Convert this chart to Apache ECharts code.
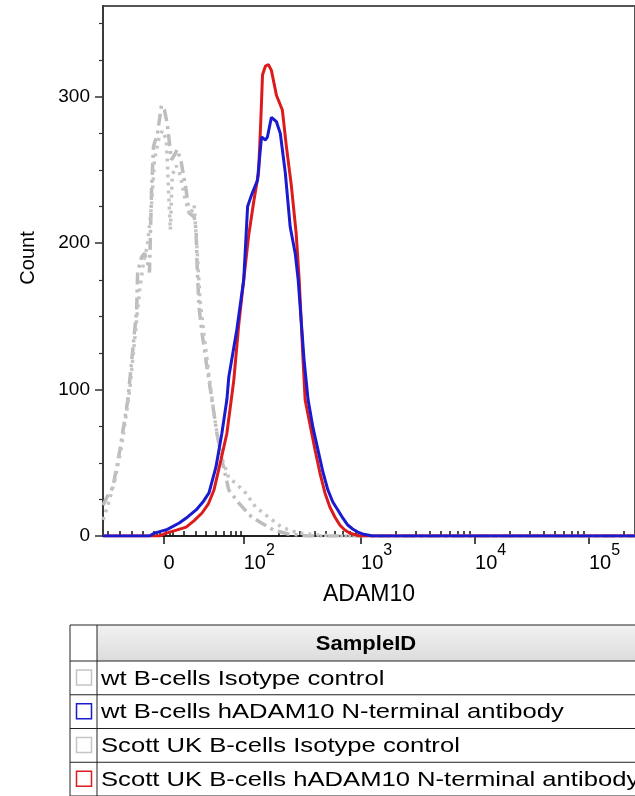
<!DOCTYPE html>
<html><head><meta charset="utf-8">
<script src="https://cdn.jsdelivr.net/npm/echarts@6/dist/echarts.min.js"></script>
<style>html,body{margin:0;padding:0;background:#fff}#c{width:635px;height:796px}</style>
</head><body><div id="c"></div>
<script>
// ---- data (x in display units of the biexponential ADAM10 axis, y = Count) ----
const legendNames = [
  'wt B-cells Isotype control',
  'wt B-cells hADAM10 N-terminal antibody',
  'Scott UK B-cells Isotype control',
  'Scott UK B-cells hADAM10 N-terminal antibody'
];
const xTickVals = [1.265, 1.97, 3, 4, 5];
const xTickLabels = ['0', '10^2', '10^3', '10^4', '10^5'];
const xMinorTicks = [0.778, 0.883, 0.987, 1.083, 1.178, 1.204, 1.230, 1.290, 1.317, 1.343,
  1.448, 1.552, 1.640, 1.727, 1.796, 1.857, 1.900, 1.943,
  2.280, 2.461, 2.590, 2.690, 2.771, 2.840, 2.900, 2.953,
  3.301, 3.477, 3.602, 3.699, 3.778, 3.845, 3.903, 3.954,
  4.301, 4.477, 4.602, 4.699, 4.778, 4.845, 4.903, 4.954, 5.301];
const yTickVals = [0, 100, 200, 300];
const yMinorTicks = [25, 50, 75, 125, 150, 175, 225, 250, 275, 325, 350];

const wtIsoX = [0.735, 0.770, 0.822, 0.883, 0.953, 0.996, 1.030, 1.039, 1.074, 1.100, 1.126, 1.143, 1.161, 1.178, 1.213, 1.248, 1.274, 1.300, 1.335, 1.361, 1.387, 1.422, 1.465, 1.491, 1.535, 1.552, 1.561, 1.578, 1.604, 1.648, 1.691, 1.735, 1.778, 1.839, 1.926, 2.039, 2.126, 2.230, 2.361, 2.535, 5.404];
const wtIsoY = [21, 26.6, 33.5, 58.7, 93, 127, 154, 180, 190.6, 193, 187, 180, 236, 266, 275, 294, 291, 281, 257, 260, 264, 255, 236, 220.6, 218, 209, 184, 156, 138.7, 115, 93, 70, 52, 31.4, 22.5, 13, 8.9, 4.1, 1.4, 0, 0];

const wtAbX = [0.735, 1.143, 1.187, 1.300, 1.404, 1.478, 1.552, 1.610, 1.665, 1.726, 1.778, 1.822, 1.839, 1.909, 1.970, 2.004, 2.039, 2.091, 2.126, 2.161, 2.178, 2.213, 2.257, 2.291, 2.335, 2.378, 2.422, 2.448, 2.474, 2.500, 2.535, 2.578, 2.622, 2.665, 2.709, 2.752, 2.796, 2.839, 2.883, 2.926, 2.970, 3.013, 3.057, 3.100, 5.404];
const wtAbY = [0, 0, 2, 4.5, 8.9, 13, 17.8, 23, 29.4, 47, 70, 93, 108.6, 140.7, 175, 225, 233, 243, 272.5, 270.5, 272.5, 286, 283, 275, 248, 211, 193, 175, 147.5, 120, 93, 74, 58.7, 43.7, 31.4, 23.2, 17.8, 12.3, 7.5, 4.8, 2.7, 1.4, 0.7, 0, 0];

const scottIsoX = [0.735, 0.778, 0.839, 0.900, 0.970, 1.022, 1.057, 1.091, 1.126, 1.161, 1.187, 1.222, 1.257, 1.291, 1.326, 1.343, 1.378, 1.413, 1.457, 1.500, 1.535, 1.561, 1.587, 1.622, 1.665, 1.717, 1.770, 1.839, 1.900, 1.987, 2.074, 2.187, 2.300, 2.448, 2.622, 2.796, 5.404];
const scottIsoY = [11, 21, 38, 62, 100, 141, 168, 187, 199, 226, 257, 270.5, 277, 270.5, 209, 246.6, 253, 246.6, 229.5, 219, 226, 195, 161, 137, 110, 79, 55, 39.6, 36, 29.4, 19.8, 13, 6.1, 2, 0.7, 0, 0];

const scottAbX = [0.735, 1.230, 1.291, 1.380, 1.465, 1.535, 1.604, 1.660, 1.709, 1.770, 1.822, 1.883, 1.926, 1.970, 2.013, 2.057, 2.100, 2.120, 2.135, 2.161, 2.187, 2.213, 2.257, 2.309, 2.343, 2.387, 2.430, 2.457, 2.474, 2.491, 2.509, 2.552, 2.596, 2.639, 2.683, 2.726, 2.770, 2.813, 2.857, 2.900, 2.943, 2.987, 5.404];
const scottAbY = [0, 0, 2, 4, 6.1, 10.5, 15.7, 22, 31.4, 52, 70, 106.5, 144, 175, 205, 228, 248, 284, 315, 321, 322, 318, 301, 291, 267, 240, 207, 175, 147.5, 120, 93, 76, 58.7, 43, 29.4, 19.8, 13, 7.5, 4.1, 2, 1, 0, 0];

// ---- chart ----
const zip = (xs, ys) => xs.map((x, i) => [x, ys[i]]);
const FONT = '"Liberation Sans", Arial, sans-serif';
const chart = echarts.init(document.getElementById('c'), null, {renderer: 'canvas'});

function fmtX(v) {
  let best = 0;
  xTickVals.forEach((t, i) => { if (Math.abs(t - v) < Math.abs(xTickVals[best] - v)) best = i; });
  const lab = xTickLabels[best];
  if (lab.indexOf('^') >= 0) {
    const p = lab.split('^');
    return '{n|' + p[0] + '}{s|' + p[1] + '}';
  }
  return '{n|' + lab + '}';
}

// legend table (graphic)
const tblL = 70, tblC = 97, tblR = 640, hdrTop = 625, hdrBot = 661, rowH = 33.75;
const colors = ['#c4c4c4', '#1a1ad0', '#c4c4c4', '#dc1c1c'];
const graphics = [];
graphics.push({type: 'rect', shape: {x: tblC, y: hdrTop, width: tblR - tblC, height: hdrBot - hdrTop},
  style: {fill: new echarts.graphic.LinearGradient(0, 0, 0, 1, [{offset: 0, color: '#f2f2f2'}, {offset: 1, color: '#dcdcdc'}])}});
graphics.push({type: 'text', x: (tblC + 635) / 2, y: (hdrTop + hdrBot) / 2 + 1, scaleX: 1.1,
  style: {text: 'SampleID', font: 'bold 20px ' + FONT, fill: '#000', align: 'center', verticalAlign: 'middle'}});
const hLines = [hdrTop, hdrBot];
legendNames.forEach((name, i) => {
  const top = hdrBot + i * rowH;
  hLines.push(top + rowH);
  graphics.push({type: 'rect', shape: {x: 76.5, y: top + 9, width: 15, height: 15},
    style: {fill: '#fff', stroke: colors[i], lineWidth: 1.5}});
  graphics.push({type: 'text', x: 101, y: top + rowH / 2 + 1, scaleX: 1.22,
    style: {text: name, font: '21px ' + FONT, fill: '#000', align: 'left', verticalAlign: 'middle'}});
});
hLines.forEach(y => graphics.push({type: 'line', shape: {x1: tblL, y1: y, x2: tblR, y2: y}, style: {stroke: '#222', lineWidth: 1}}));
[tblL, tblC].forEach(x => graphics.push({type: 'line', shape: {x1: x, y1: hdrTop, x2: x, y2: 800}, style: {stroke: '#222', lineWidth: 1}}));

const axisCommon = {min: 0.735, max: 5.404, type: 'value', splitLine: {show: false}};
chart.setOption({
  animation: false,
  backgroundColor: '#fff',
  textStyle: {fontFamily: FONT},
  grid: {left: 103, right: -5, top: 6, bottom: 260, show: true, borderColor: '#555', borderWidth: 2, containLabel: false},
  xAxis: [
    Object.assign({}, axisCommon, {
      name: 'ADAM10', nameLocation: 'middle', nameGap: 47,
      nameTextStyle: {fontSize: 23, color: '#000', fontFamily: FONT},
      axisLine: {show: true, onZero: false, lineStyle: {color: '#111', width: 1.5}},
      axisTick: {show: true, inside: false, length: 8, customValues: xTickVals, lineStyle: {color: '#111', width: 1.5}},
      axisLabel: {show: true, margin: 7, align: 'left', customValues: xTickVals, formatter: fmtX,
        rich: {n: {fontSize: 20, color: '#000', fontFamily: FONT, lineHeight: 30, verticalAlign: 'bottom'},
               s: {fontSize: 16, color: '#000', fontFamily: FONT, lineHeight: 30, verticalAlign: 'top'}}}
    }),
    Object.assign({}, axisCommon, {
      axisLine: {show: false},
      axisTick: {show: true, inside: false, length: 5, customValues: xMinorTicks, lineStyle: {color: '#111', width: 1.5}},
      axisLabel: {show: false}
    })
  ],
  yAxis: [
    {type: 'value', min: 0, max: 362, splitLine: {show: false},
      name: 'Count', nameLocation: 'middle', nameGap: 65, nameRotate: 90,
      nameTextStyle: {fontSize: 20, color: '#000', fontFamily: FONT, padding: [0, 0, 0, 26]},
      axisLine: {show: true, lineStyle: {color: '#333', width: 1.5}},
      axisTick: {show: true, length: 8, customValues: yTickVals, lineStyle: {color: '#333', width: 1.5}},
      axisLabel: {show: true, margin: 13, customValues: yTickVals, fontSize: 19, color: '#000', fontFamily: FONT}},
    {type: 'value', min: 0, max: 362, splitLine: {show: false}, position: 'left',
      axisLine: {show: false},
      axisTick: {show: true, length: 4, customValues: yMinorTicks, lineStyle: {color: '#333', width: 1.2}},
      axisLabel: {show: false}}
  ],
  series: [
    {name: legendNames[0], type: 'line', showSymbol: false, data: zip(wtIsoX, wtIsoY), z: 2,
      lineStyle: {color: '#bdbdbd', width: 3.5, type: [12, 5, 3, 5]}},
    {name: legendNames[2], type: 'line', showSymbol: false, data: zip(scottIsoX, scottIsoY), z: 2,
      lineStyle: {color: '#c4c4c4', width: 3.5, type: [3, 5]}},
    {name: legendNames[3], type: 'line', showSymbol: false, data: zip(scottAbX, scottAbY), z: 3,
      lineStyle: {color: colors[3], width: 3}},
    {name: legendNames[1], type: 'line', showSymbol: false, data: zip(wtAbX, wtAbY), z: 4,
      lineStyle: {color: colors[1], width: 3}}
  ],
  graphic: graphics
});
</script>
</body></html>
